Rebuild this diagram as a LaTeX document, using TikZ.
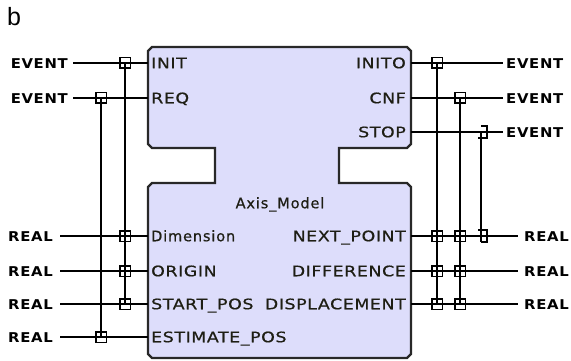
\documentclass[tikz,border=0pt]{standalone}
\usepackage{fontspec}
\setmainfont{DejaVu Sans}
\newfontfamily\capfont[FakeStretch=1.2, LetterSpace=4, FakeBold=0.6]{DejaVu Sans}
\newfontfamily\lowfont[LetterSpace=6, FakeBold=0.6]{DejaVu Sans}
\newfontfamily\extfont[FakeStretch=1.1, LetterSpace=5]{DejaVu Sans Bold}
\newfontfamily\bfont{Liberation Sans}
\definecolor{blockfill}{RGB}{221,221,251}
\definecolor{blockedge}{RGB}{40,40,40}
\definecolor{portcol}{RGB}{30,30,20}
\tikzset{
  wire/.style={line width=1.5pt, draw=black},
  lab/.style={font=\fontsize{14.5}{15}\capfont, text height=10.5pt, text depth=0pt, inner ysep=0pt},
  extl/.style={lab, font=\fontsize{13.5}{14}\extfont, text=black, anchor=east},
  extr/.style={lab, font=\fontsize{13.5}{14}\extfont, text=black, anchor=west},
  portl/.style={lab, text=portcol, inner sep=0pt, anchor=west},
  portr/.style={lab, text=portcol, inner sep=0pt, anchor=east},
  jbox/.style={draw=black, line width=1.5pt, minimum size=10.5pt, inner sep=0pt},
  blockshape/.style={fill=blockfill, draw=blockedge, line width=2.2pt, line join=miter}
}
\begin{document}
\begin{tikzpicture}[x=1pt,y=-1pt]
\useasboundingbox (0,0) rectangle (571,361);
% panel letter
\node[font=\fontsize{25}{26}\bfont, anchor=base west, inner sep=0pt] (letter) at (7,26) {b};
% function block
\draw[blockshape] (148,51) -- (152,47) -- (407,47) -- (411,51) -- (411,144) -- (407,148)
  -- (339,148) -- (339,183) -- (407,183) -- (411,187) -- (411,354) -- (407,358)
  -- (152,358) -- (148,354) -- (148,187) -- (152,183) -- (215,183) -- (215,148)
  -- (152,148) -- (148,144) -- cycle;
\node[lab, text=portcol, font=\fontsize{14.5}{15}\lowfont, inner sep=0pt] (title) at (280,203) {Axis\_Model};
% port points on block edge
\coordinate (pINIT) at (148,63);
\coordinate (pREQ) at (148,98);
\coordinate (pDIM) at (148,236);
\coordinate (pORG) at (148,271);
\coordinate (pSTA) at (148,304);
\coordinate (pEST) at (148,337);
\coordinate (pINITO) at (411,63);
\coordinate (pCNF) at (411,98);
\coordinate (pSTOP) at (411,132);
\coordinate (pNEXT) at (411,236);
\coordinate (pDIFF) at (411,271);
\coordinate (pDISP) at (411,304);
% port labels
\node[portl] (lINIT) at (151,63) {INIT};
\node[portl] (lREQ) at (151,98) {REQ};
\node[portl, font=\fontsize{14.5}{15}\lowfont] (lDIM) at (151,236) {Dimension};
\node[portl] (lORG) at (151,271) {ORIGIN};
\node[portl] (lSTA) at (151,304) {START\_POS};
\node[portl] (lEST) at (151,337) {ESTIMATE\_POS};
\node[portr] (lINITO) at (406,63) {INITO};
\node[portr] (lCNF) at (406,98) {CNF};
\node[portr] (lSTOP) at (406,132) {STOP};
\node[portr] (lNEXT) at (406,236) {NEXT\_POINT};
\node[portr] (lDIFF) at (406,271) {DIFFERENCE};
\node[portr] (lDISP) at (406,304) {DISPLACEMENT};
% external labels
\node[extl, inner xsep=5pt] (eINIT) at (73,63) {EVENT};
\node[extl, inner xsep=5pt] (eREQ) at (73,98) {EVENT};
\node[extl, inner xsep=7pt] (eDIM) at (60,236) {REAL};
\node[extl, inner xsep=7pt] (eORG) at (60,271) {REAL};
\node[extl, inner xsep=7pt] (eSTA) at (60,304) {REAL};
\node[extl, inner xsep=7pt] (eEST) at (60,337) {REAL};
\node[extr, inner xsep=3pt] (eINITO) at (503,63) {EVENT};
\node[extr, inner xsep=3pt] (eCNF) at (503,98) {EVENT};
\node[extr, inner xsep=3pt] (eSTOP) at (503,132) {EVENT};
\node[extr, inner xsep=6pt] (eNEXT) at (518,236) {REAL};
\node[extr, inner xsep=6pt] (eDIFF) at (518,271) {REAL};
\node[extr, inner xsep=6pt] (eDISP) at (518,304) {REAL};
% horizontal wires
\draw[wire] (eINIT.east) -- (pINIT);
\draw[wire] (eREQ.east) -- (pREQ);
\draw[wire] (eDIM.east) -- (pDIM);
\draw[wire] (eORG.east) -- (pORG);
\draw[wire] (eSTA.east) -- (pSTA);
\draw[wire] (eEST.east) -- (pEST);
\draw[wire] (pINITO) -- (eINITO.west);
\draw[wire] (pCNF) -- (eCNF.west);
\draw[wire] (pSTOP) -- (eSTOP.west);
\draw[wire] (pNEXT) -- (eNEXT.west);
\draw[wire] (pDIFF) -- (eDIFF.west);
\draw[wire] (pDISP) -- (eDISP.west);
% junctions (WITH associations)
\node[jbox] (jINIT) at (125,63) {};
\node[jbox] (jDIM) at (125,236) {};
\node[jbox] (jORG) at (125,271) {};
\node[jbox] (jSTA) at (125,304) {};
\node[jbox] (jREQ) at (101,98) {};
\node[jbox] (jEST) at (101,337) {};
\node[jbox] (jINITO) at (437,63) {};
\node[jbox] (jNEXTa) at (437,236) {};
\node[jbox] (jDIFFa) at (437,271) {};
\node[jbox] (jDISPa) at (437,304) {};
\node[jbox] (jCNF) at (460,98) {};
\node[jbox] (jNEXTb) at (460,236) {};
\node[jbox] (jDIFFb) at (460,271) {};
\node[jbox] (jDISPb) at (460,304) {};
\coordinate (jSTOP) at (481,132);
\coordinate (jNEXTc) at (481,236);
% vertical association lines
\draw[wire] (jINIT.center) -- (jSTA.center);
\draw[wire] (jREQ.center) -- (jEST.center);
\draw[wire] (jINITO.center) -- (jDISPa.center);
\draw[wire] (jCNF.center) -- (jDISPb.center);
\draw[wire] (jSTOP) -- ([yshift=-6pt]jNEXTc);
% bracket ends of the STOP association
\draw[wire] ([xshift=-3pt,yshift=-6pt]jSTOP) -- ([xshift=6pt,yshift=-6pt]jSTOP)
  -- ([xshift=6pt,yshift=6pt]jSTOP) -- ([yshift=6pt]jSTOP);
\draw[wire] ([yshift=-6pt]jNEXTc) -- ([xshift=6pt,yshift=-6pt]jNEXTc)
  -- ([xshift=6pt,yshift=6pt]jNEXTc) -- ([xshift=-3pt,yshift=6pt]jNEXTc);
\end{tikzpicture}
\end{document}
